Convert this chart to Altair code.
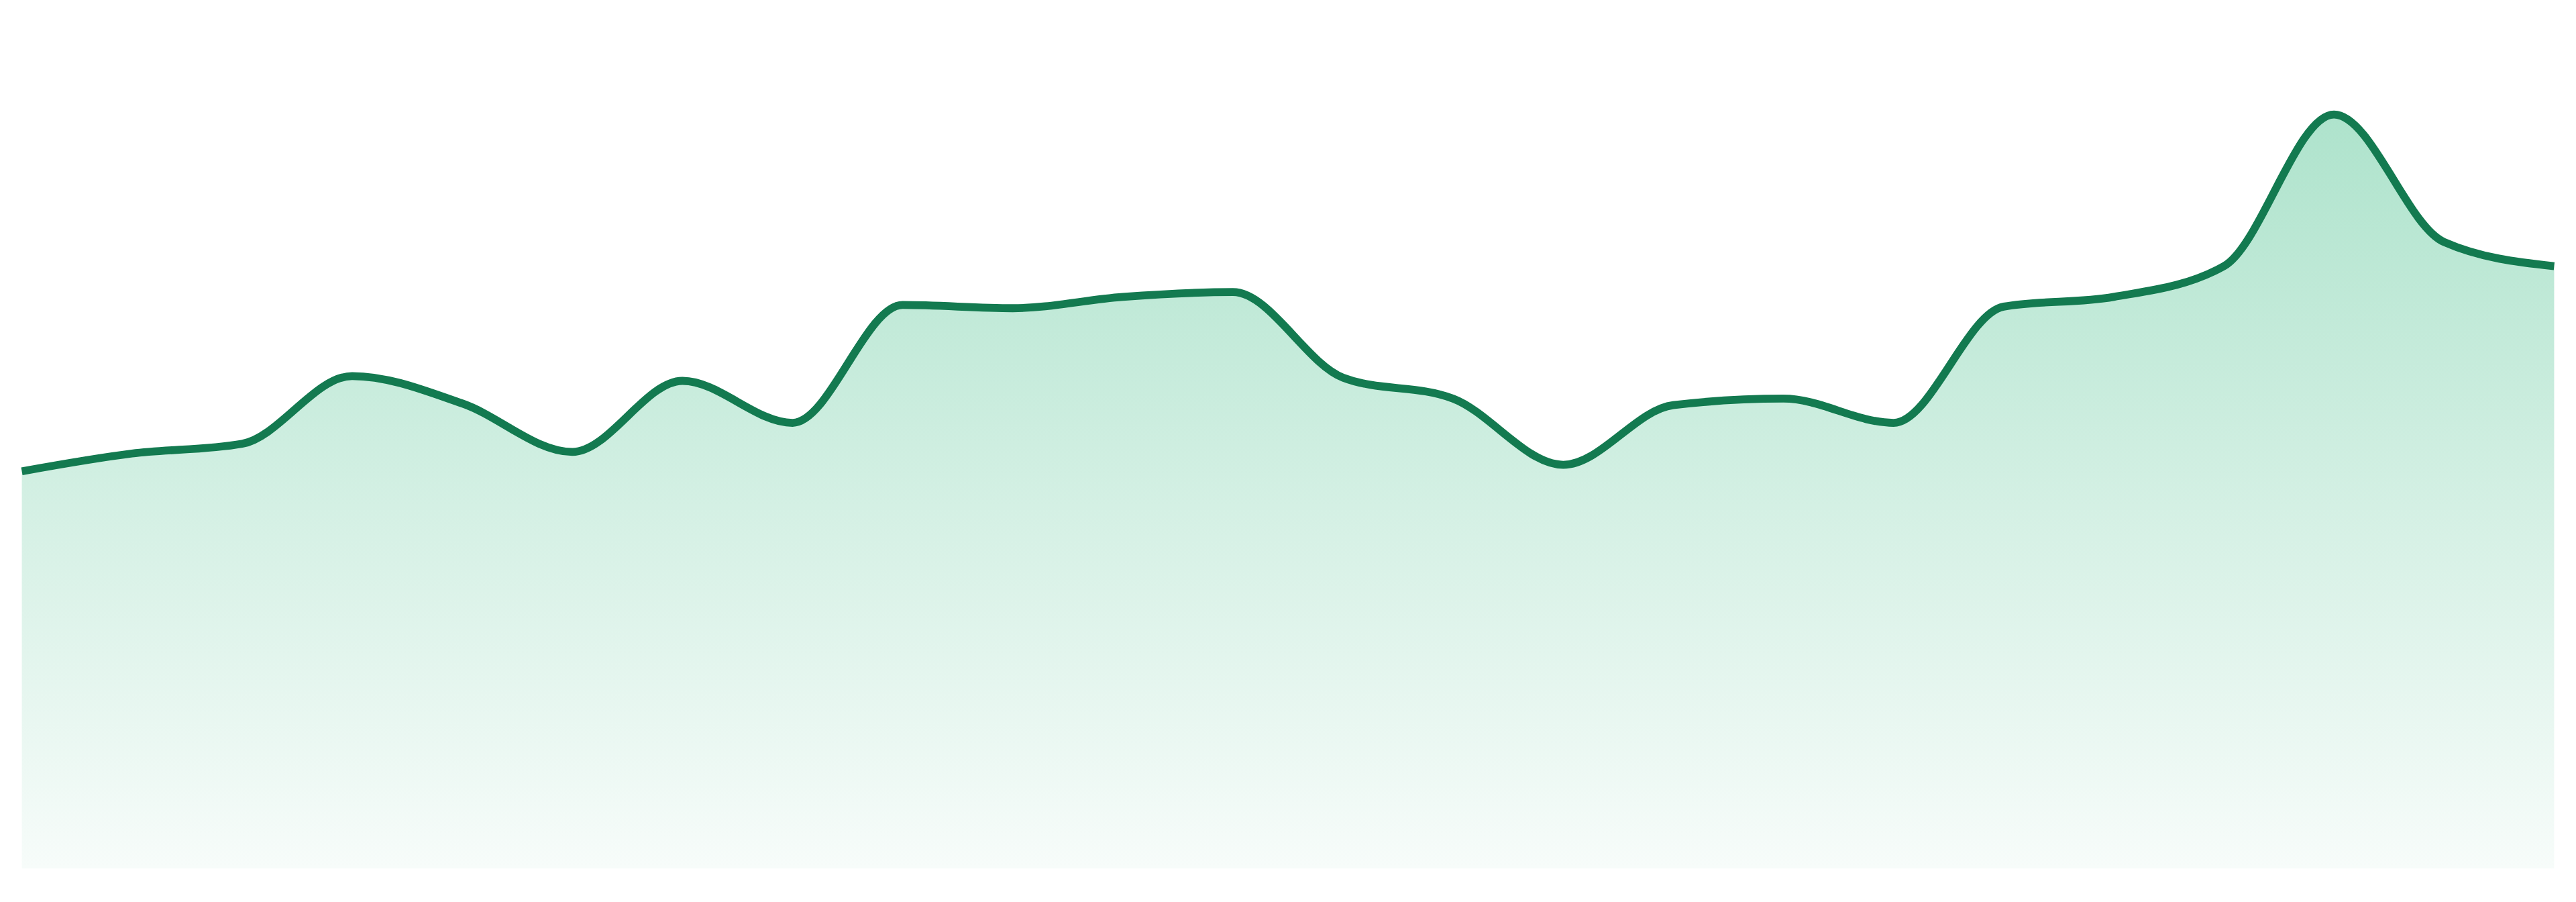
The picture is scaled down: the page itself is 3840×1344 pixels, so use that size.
import altair as alt
import pandas as pd

# point index along the x axis
steps = list(range(24))
# series values (height above baseline, arbitrary units)
values = [246, 257, 263, 305, 288, 258, 302, 276, 349, 347, 354, 357,
          304, 291, 250, 287, 291, 276, 348, 354, 373, 467, 388, 373]

df = pd.DataFrame({"step": steps, "value": values})

# domain slightly inset so the series runs edge to edge of the page, as in the reference
x_enc = alt.X("step:Q", axis=None,
              scale=alt.Scale(domain=[0.048, 22.952], nice=False, zero=False))
y_enc = alt.Y("value:Q", axis=None, scale=alt.Scale(domain=[0, 530], nice=False))

area = alt.Chart(df).mark_area(
    interpolate="monotone",
    color=alt.Gradient(
        gradient="linear",
        x1=1, x2=1, y1=1, y2=0,
        stops=[
            alt.GradientStop(color="#f7fcfa", offset=0),
            alt.GradientStop(color="#aee3cc", offset=1),
        ],
    ),
).encode(x=x_enc, y=y_enc)

line = alt.Chart(df).mark_line(
    interpolate="monotone",
    color="#137a50",
    strokeWidth=12,
).encode(x=x_enc, y=y_enc)

chart = alt.layer(area, line).properties(
    width=3824,
    height=1297,
    padding=0,
    background="white",
).configure_view(stroke=None)

chart.save("out.html", embed_options={"renderer": "svg", "actions": False})
